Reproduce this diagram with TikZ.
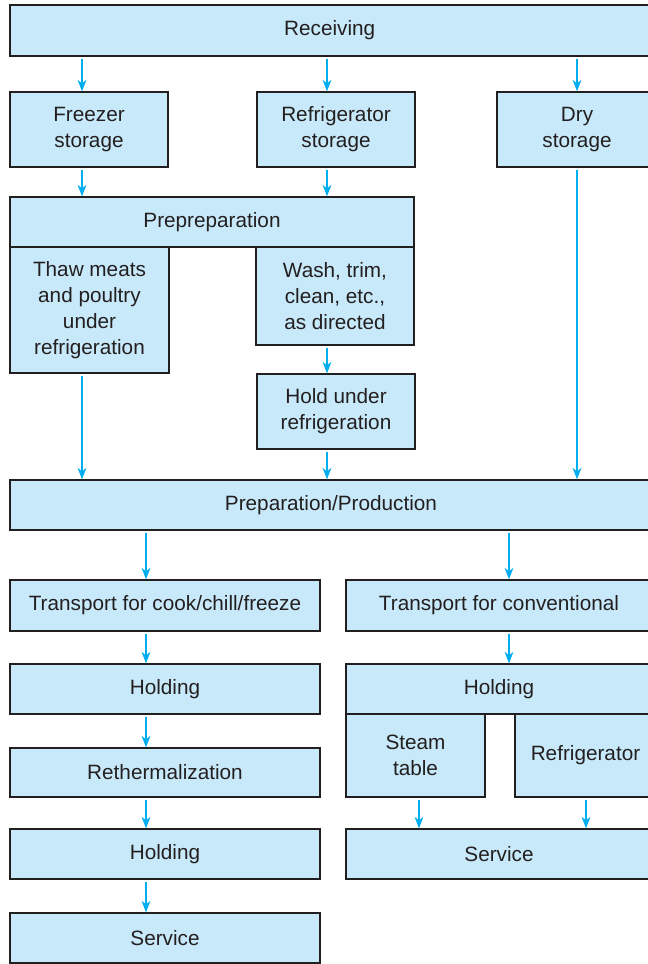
\documentclass[tikz,border=0pt]{standalone}
\usepackage{fontspec}
\setmainfont{Liberation Sans}
\usepackage{tikz}
\usetikzlibrary{arrows.meta}
\definecolor{flowcyan}{RGB}{0,173,238}
\definecolor{boxfill}{RGB}{200,233,249}
\definecolor{inkgray}{RGB}{35,31,32}
\tikzset{
  % basic box
  box/.style={
    draw=inkgray,
    line width=0.8pt,
    fill=boxfill,
    text=inkgray,
    align=center,
    inner sep=0pt,
    font=\fontsize{11.8}{14.7}\selectfont
  },
  % arrow style
  arr/.style={-{Stealth[length=6.5pt,width=5pt,inset=2pt]}, line width=0.6pt, flowcyan, shorten <=1.2pt},
}
\begin{document}
\begin{tikzpicture}[x=0.02cm, y=-0.02cm]
        \useasboundingbox (0,0) rectangle (648,964);

        % Receiving and storage
        \node[box, minimum width=12.79cm, minimum height=1.02cm] (recv) at (329.75,30.5) {Receiving};
        \node[box, minimum width=3.16cm, minimum height=1.5cm] (frz) at (89,129.5) {Freezer\\storage};
        \node[box, minimum width=3.16cm, minimum height=1.5cm] (rfs) at (336,129.5) {Refrigerator\\storage};
        \node[box, minimum width=3.2cm, minimum height=1.5cm] (dry) at (577,129.5) {Dry\\storage};

        % Prepreparation
        \node[box, minimum width=8.08cm, minimum height=1.0cm] (prp) at (212,222) {Prepreparation};
        \node[box, minimum width=3.18cm, minimum height=2.52cm] (thaw) at (89.5,310) {Thaw meats\\and poultry\\under\\refrigeration};
        \node[box, minimum width=3.16cm, minimum height=1.96cm] (wash) at (335,296) {Wash, trim,\\clean, etc.,\\as directed};
        \node[box, minimum width=3.16cm, minimum height=1.5cm] (hold) at (336,411.5) {Hold under\\refrigeration};

        % Production
        \node[box, minimum width=12.84cm, minimum height=1.0cm] (prod) at (331,505) {Preparation/Production};

        % Cook/chill/freeze line
        \node[box, minimum width=6.2cm, minimum height=1.02cm] (trL) at (165,605.5) {Transport for cook/chill/freeze};
        \node[box, minimum width=6.2cm, minimum height=1.0cm] (hldL) at (165,689) {Holding};
        \node[box, minimum width=6.2cm, minimum height=0.98cm] (rth) at (165,772.5) {Rethermalization};
        \node[box, minimum width=6.2cm, minimum height=1.0cm] (hldL2) at (165,854) {Holding};
        \node[box, minimum width=6.2cm, minimum height=1.0cm] (svcL) at (165,938) {Service};

        % Conventional line
        \node[box, minimum width=6.12cm, minimum height=1.02cm] (trR) at (499,605.5) {Transport for conventional};
        \node[box, minimum width=6.12cm, minimum height=1.0cm] (hldR) at (499,689) {Holding};
        \node[box, minimum width=2.78cm, minimum height=1.66cm] (steam) at (415.5,755.5) {Steam\\table};
        \node[box, minimum width=2.82cm, minimum height=1.66cm] (fridge) at (585.5,755.5) {Refrigerator};
        \node[box, minimum width=6.12cm, minimum height=1.0cm] (svcR) at (499,854) {Service};

        % Connectors
        \foreach \a/\b/\x in {recv/frz/82, recv/rfs/327, recv/dry/577,
                              frz/prp/82, rfs/prp/327, wash/hold/327,
                              thaw/prod/82, hold/prod/327, dry/prod/577,
                              prod/trL/146, prod/trR/509,
                              trL/hldL/146, hldL/rth/146, rth/hldL2/146, hldL2/svcL/146,
                              trR/hldR/509, steam/svcR/419, fridge/svcR/586}
            \draw[arr] (\a.south -| \x,0) -- (\b.north -| \x,0);
    \end{tikzpicture}
\end{document}
